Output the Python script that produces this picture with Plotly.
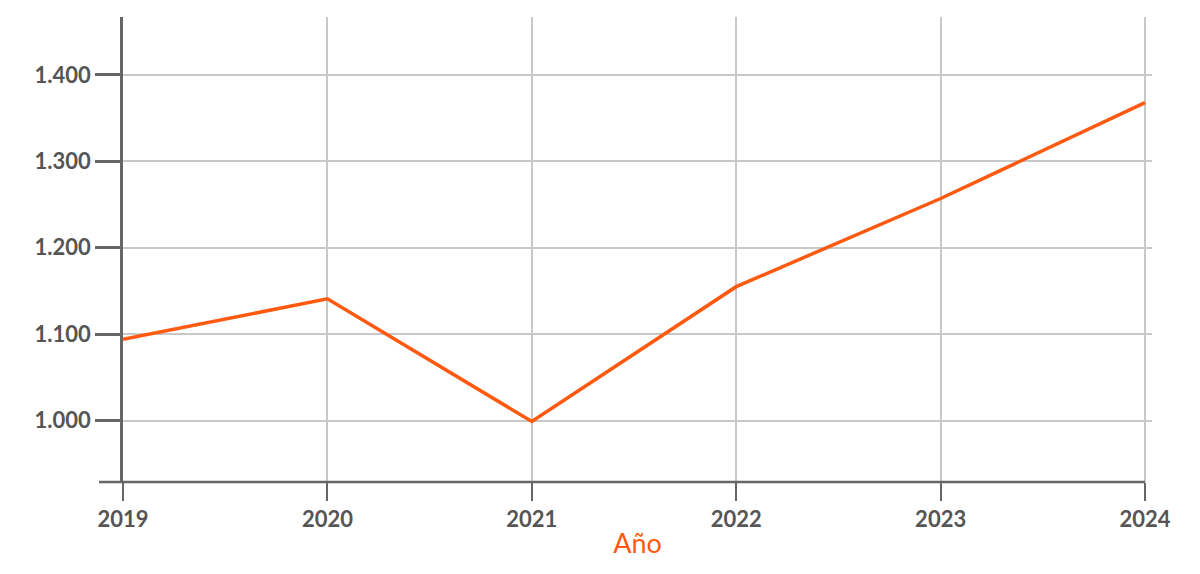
import plotly.graph_objects as go

years = [2019, 2020, 2021, 2022, 2023, 2024]
values = [1094, 1141, 999, 1155, 1257, 1368]
y_ticks = [1000, 1100, 1200, 1300, 1400]
x_title = "Año"

orange = "#FF5A0F"
axis_col = "#666666"
grid_col = "#C8C8C8"
label_col = "#555555"

fig = go.Figure()
fig.add_trace(go.Scatter(x=years, y=values, mode="lines",
                         line=dict(color=orange, width=3.5), hoverinfo="x+y"))

font_fam = "Lato"
# page body has an 8px margin; margins compensate so the plot area sits at 123..1152 x 17..482
fig.update_layout(
    width=1200, height=574,
    margin=dict(l=115, r=56, t=9, b=100),
    paper_bgcolor="white", plot_bgcolor="white",
    showlegend=False,
    separators=",.",
    font=dict(family=font_fam, color=label_col),
)
fig.update_xaxes(
    range=[2019, 2024.034],
    tickvals=years, ticktext=[str(y) for y in years],
    showgrid=True, gridcolor=grid_col, gridwidth=1.5,
    showline=False, zeroline=False,
    ticks="outside", ticklen=18, tickwidth=2, tickcolor=axis_col,
    tickfont=dict(family=font_fam, size=22, color=label_col, weight=700),
    title=dict(text=x_title, font=dict(family=font_fam, size=27, color=orange), standoff=2),
)
fig.update_yaxes(
    range=[929, 1467],
    tickvals=y_ticks, tickformat=",d",
    showgrid=True, gridcolor=grid_col, gridwidth=1.5,
    showline=True, linecolor=axis_col, linewidth=2.5,
    zeroline=False,
    ticks="outside", ticklen=25, tickwidth=2.5, tickcolor=axis_col,
    tickfont=dict(family=font_fam, size=22, color=label_col, weight=700),
)
fig.add_shape(type="line", xref="x domain", yref="y domain",
              x0=-24/1029, x1=(1145-123)/1029, y0=0, y1=0,
              line=dict(color=axis_col, width=2.5))

fig.write_html("out.html")
